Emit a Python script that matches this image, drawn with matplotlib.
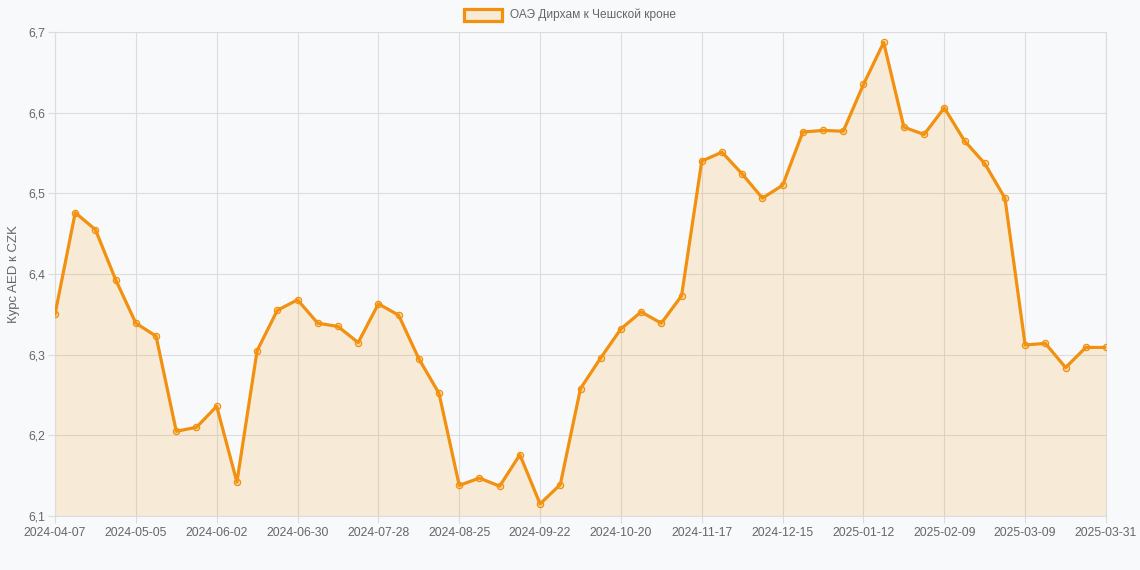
import matplotlib
matplotlib.use("Agg")
import matplotlib.pyplot as plt
import matplotlib.patches as mpatches
import pandas as pd

plt.rcParams['font.family'] = ['Liberation Sans', 'DejaVu Sans']

weekly = pd.date_range("2024-04-07", periods=52, freq="7D").strftime("%Y-%m-%d").tolist()
labels = weekly + ["2025-03-31"]

values = [6.350, 6.476, 6.455, 6.393, 6.339, 6.323, 6.205, 6.210, 6.236, 6.142,
          6.305, 6.355, 6.368, 6.339, 6.335, 6.315, 6.363, 6.349, 6.295, 6.252,
          6.138, 6.147, 6.137, 6.176, 6.115, 6.139, 6.258, 6.296, 6.332, 6.353,
          6.339, 6.373, 6.540, 6.551, 6.524, 6.494, 6.510, 6.576, 6.578, 6.577,
          6.635, 6.687, 6.582, 6.573, 6.606, 6.565, 6.537, 6.494, 6.312, 6.314,
          6.284, 6.309, 6.309]

series_name = "ОАЭ Дирхам к Чешской кроне"
y_label = "Курс AED к CZK"
y_ticks = [6.1, 6.2, 6.3, 6.4, 6.5, 6.6, 6.7]
tick_idx = list(range(0, 49, 4)) + [52]

line_c = "#f2900f"
fill_c = (243/255, 156/255, 18/255, 0.15)
bg = "#f8f9fa"
grid_c = "#dcdcdc"
text_c = "#666666"

fig = plt.figure(figsize=(11.4, 5.7), dpi=100, facecolor=bg)
ax = fig.add_axes([55/1140, (570-516)/570, (1106-55)/1140, (516-32)/570])
ax.set_facecolor(bg)

x = list(range(len(values)))
ax.fill_between(x, values, 6.1, color=fill_c, lw=0, zorder=2)
ax.plot(x, values, color=line_c, lw=2.3, zorder=3,
        marker='o', ms=4.5, mfc=(243/255, 156/255, 18/255, 0.25), mec=line_c, mew=0.9)

ax.set_xlim(0, len(values) - 1)
ax.set_ylim(6.1, 6.7)
ax.set_yticks(y_ticks)
ax.set_yticklabels([f"{v:.1f}".replace(".", ",") for v in y_ticks])
ax.set_xticks(tick_idx)
ax.set_xticklabels([labels[i] for i in tick_idx])
ax.grid(True, color=grid_c, lw=0.8, zorder=0)
for s in ax.spines.values():
    s.set_color(grid_c)
    s.set_linewidth(0.8)
ax.tick_params(axis='both', colors=grid_c, labelcolor=text_c, labelsize=8.8,
               length=5, width=0.8)
ax.tick_params(axis='x', pad=3)
ax.tick_params(axis='y', pad=2)
ax.set_ylabel(y_label, color=text_c, fontsize=9.5, labelpad=6)

# legend
fig.patches.append(mpatches.Rectangle((464/1140, 1 - 21/570), 38/1140, 12/570,
                                      transform=fig.transFigure, facecolor=fill_c,
                                      edgecolor=line_c, lw=2.3))
fig.text(510/1140, 1 - 15/570, series_name, color=text_c, fontsize=8.6,
         ha='left', va='center')

fig.savefig("out.png", dpi=100, facecolor=bg)
